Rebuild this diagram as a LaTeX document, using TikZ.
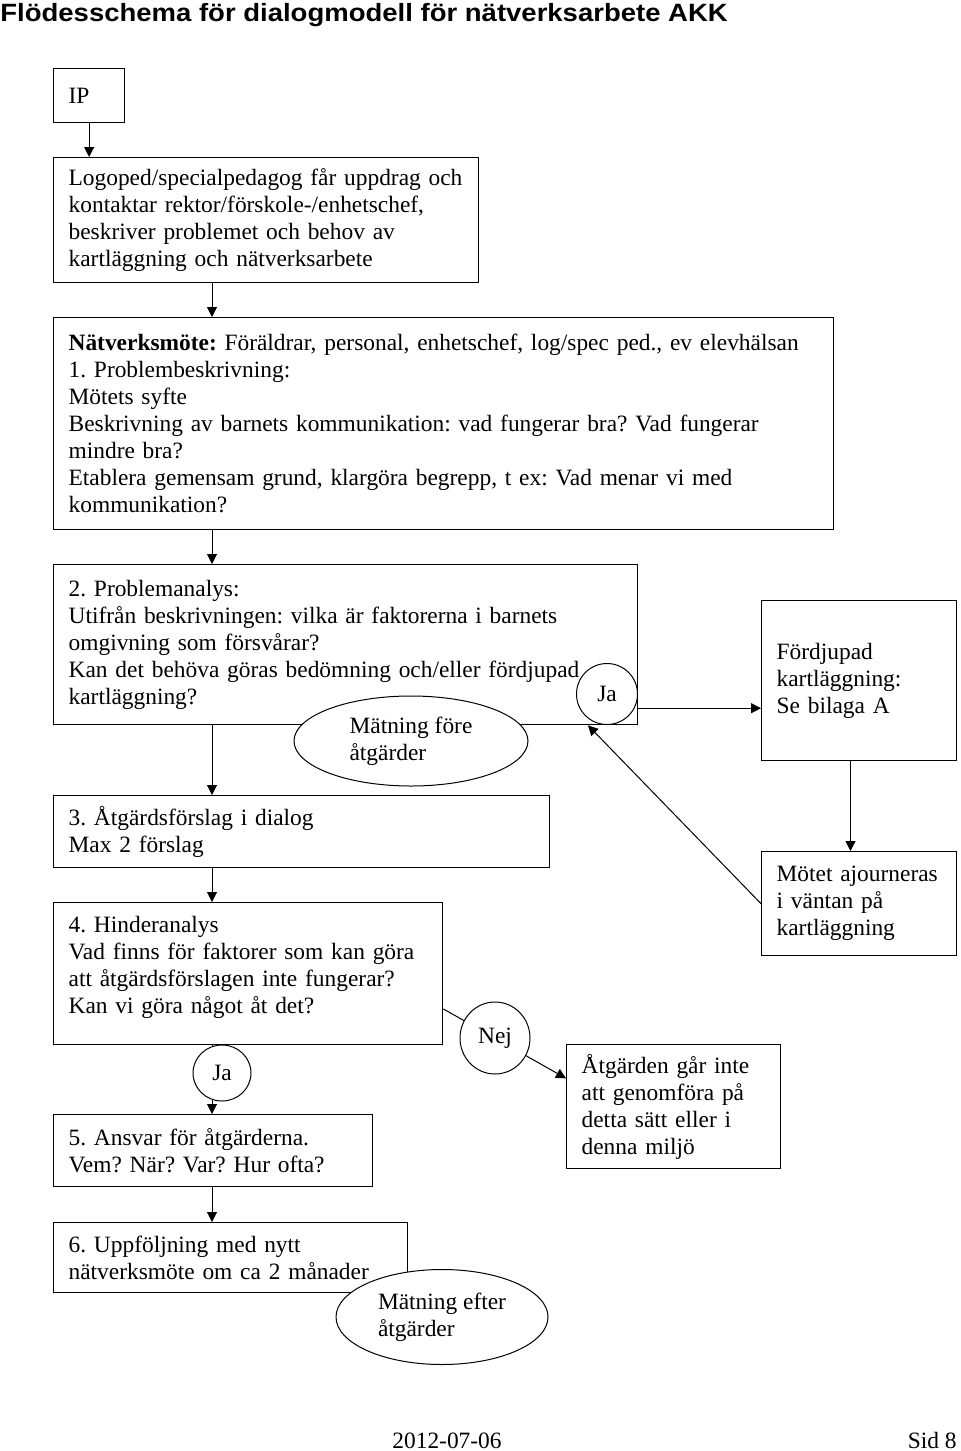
\documentclass[tikz,border=0pt]{standalone}
\usepackage{fontspec}
\setmainfont{Liberation Serif}
\newfontfamily\headfont{Liberation Sans}
\usetikzlibrary{positioning,shapes.geometric,arrows.meta,calc}
\frenchspacing
\hyphenpenalty=10000
\exhyphenpenalty=10000

\begin{document}
\begin{tikzpicture}[x=0.5pt,y=-0.5pt,
  every node/.style={font=\fontsize{11.7pt}{13.5pt}\selectfont},
  box/.style={draw,line width=0.65pt,anchor=north west,align=left,inner xsep=7.5pt,inner ysep=0pt},
  bubble/.style={draw,ellipse,fill=white,line width=0.5pt,inner sep=0pt,align=left},
  flow/.style={line width=0.5pt,-{Triangle[length=5pt,width=5pt]}}]
\useasboundingbox (0,0) rectangle (960,1451);
\node[anchor=base west,inner sep=0pt,font=\headfont\bfseries\fontsize{12.5pt}{14pt}\selectfont] (title) at (0,21)
  {\scalebox{1.1}[1]{Flödesschema för dialogmodell för nätverksarbete AKK}};

% the boxes
\node[box,text width=20.5pt,minimum height=27pt] (ip) at (53,68) {IP};
\node[box,text width=197.5pt,minimum height=62.5pt] (logo) at (53,157)
  {Logoped/specialpedagog får uppdrag och\\kontaktar rektor/förskole-/enhetschef,\\beskriver problemet och behov av\\kartläggning och nätverksarbete};
\node[box,text width=375pt,minimum height=106pt] (natv) at (53,317)
  {\textbf{Nätverksmöte:} Föräldrar, personal, enhetschef, log/spec ped., ev elevhälsan\\
   1. Problembeskrivning:\\Mötets syfte\\
   Beskrivning av barnets kommunikation: vad fungerar bra? Vad fungerar\\mindre bra?\\
   Etablera gemensam grund, klargöra begrepp, t ex: Vad menar vi med\\kommunikation?};
\node[box,text width=277pt,minimum height=80pt] (prob) at (53,564)
  {2. Problemanalys:\\Utifrån beskrivningen: vilka är faktorerna i barnets\\omgivning som försvårar?\\
   Kan det behöva göras bedömning och/eller fördjupad\\kartläggning?};
\node[box,text width=82.5pt,minimum height=80pt] (fordj) at (761,600)
  {Fördjupad\\kartläggning:\\Se bilaga A};
\node[box,text width=233pt,minimum height=36pt] (forsl) at (53,795)
  {3. Åtgärdsförslag i dialog\\Max 2 förslag};
\node[box,text width=82.5pt,minimum height=52pt] (motet) at (761,851)
  {Mötet ajourneras\\i väntan på\\kartläggning};
\node[box,text width=179.5pt,minimum height=71pt,text depth=49pt] (hind) at (53,902)
  {4. Hinderanalys\\Vad finns för faktorer som kan göra\\att åtgärdsförslagen inte fungerar?\\Kan vi göra något åt det?};
\node[box,text width=92pt,minimum height=62pt] (atg) at (566,1044)
  {Åtgärden går inte\\att genomföra på\\detta sätt eller i\\denna miljö};
\node[box,text width=144.5pt,minimum height=36pt] (ansv) at (53,1114)
  {5. Ansvar för åtgärderna.\\Vem? När? Var? Hur ofta?};
\node[box,text width=162pt,minimum height=35pt] (uppf) at (53,1222)
  {6. Uppföljning med nytt\\nätverksmöte om ca 2 månader};

% main flow down the left side
\draw[flow] (ip.south) -- (ip.south |- logo.north);
\draw[flow] ([xshift=79.5pt]logo.south west) -- ([xshift=79.5pt]natv.north west);
\draw[flow] ([xshift=79.5pt]natv.south west) -- ([xshift=79.5pt]prob.north west);
\draw[flow] ([xshift=79.5pt]prob.south west) -- ([xshift=79.5pt]forsl.north west);
\draw[flow] ([xshift=79.5pt]forsl.south west) -- ([xshift=79.5pt]hind.north west);
\draw[flow] ([xshift=79.5pt]hind.south west) -- ([xshift=79.5pt]ansv.north west);
\draw[flow] ([xshift=79.5pt]ansv.south west) -- ([xshift=79.5pt]uppf.north west);

% side branches
\coordinate (jaout) at ($(prob.north east)!0.894!(prob.south east)$);
\draw[flow] (jaout) -- (jaout -| fordj.west);
\coordinate (fdown) at ($(fordj.south west)!0.456!(fordj.south east)$);
\draw[flow] (fdown) -- (fdown |- motet.north);
\draw[flow] (motet.west) -- ($(prob.south west)!0.914!(prob.south east)$);
\draw[flow] ($(hind.north east)!0.746!(hind.south east)$) -- ($(atg.north west)!0.274!(atg.south west)$);

% ellipses on top
\node[bubble,minimum width=30.5pt,minimum height=30.5pt] (jaA) at (607,694) {Ja};
\node[bubble,minimum width=117pt,minimum height=45pt] (fore) at (411,741) {Mätning före\\åtgärder};
\node[bubble,minimum width=29pt,minimum height=28pt] (jaB) at (222,1073) {Ja};
\node[bubble,minimum width=35pt,minimum height=36pt] (nej) at (495,1038) {Nej};
\node[bubble,minimum width=106pt,minimum height=47.5pt] (efter) at (442,1317) {Mätning efter\\åtgärder};

% footer
\node[anchor=base,inner sep=0pt] (datum) at (447,1448) {2012-07-06};
\node[anchor=base east,inner sep=0pt] (sida) at (957,1448) {Sid 8};
\end{tikzpicture}
\end{document}
